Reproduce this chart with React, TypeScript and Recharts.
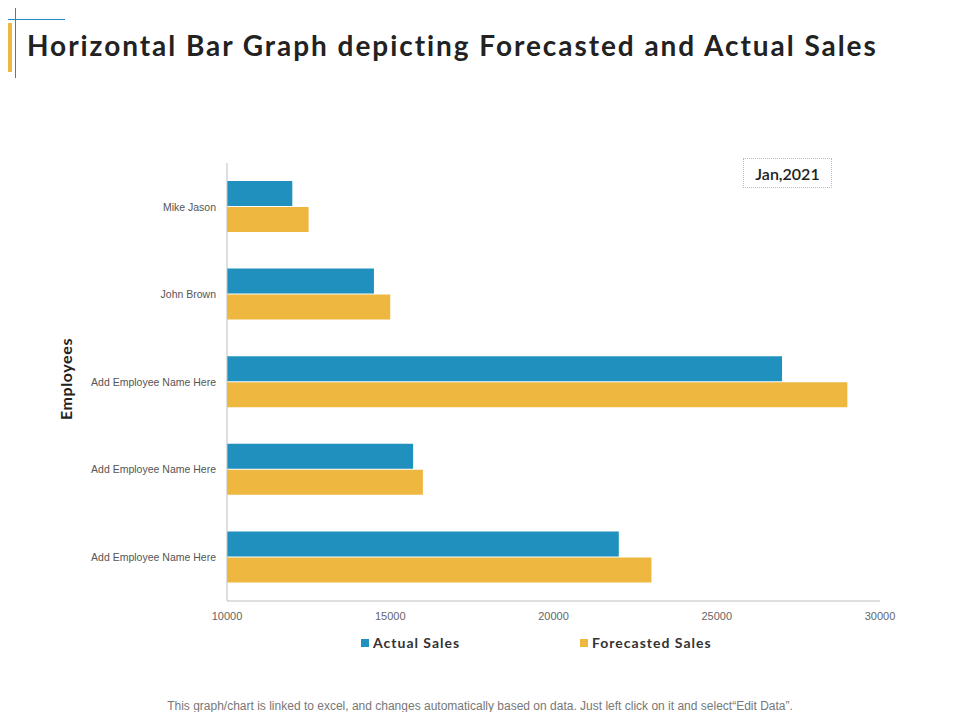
import React from "react";
import { BarChart, Bar, XAxis, YAxis, Legend } from "recharts";

const employees = [
  "Mike Jason",
  "John Brown",
  "Add Employee Name Here",
  "Add Employee Name Here ",
  "Add Employee Name Here  ",
];
const actualSales = [12000, 14500, 27000, 15700, 22000];
const forecastedSales = [12500, 15000, 29000, 16000, 23000];
const xTicks = [10000, 15000, 20000, 25000, 30000];

const BLUE = "#2090BE";
const ORANGE = "#EEB73F";

const data = employees.map((name, i) => ({
  name,
  actual: actualSales[i],
  forecast: forecastedSales[i],
}));

const gothic = "'Century Gothic', 'Lato', 'Open Sans', sans-serif";
const narrow = "'Liberation Sans Narrow', 'Arial Narrow', 'Liberation Sans', sans-serif";

function LegendContent() {
  const items = [
    { label: "Actual Sales", color: BLUE },
    { label: "Forecasted Sales", color: ORANGE },
  ];
  return (
    <div style={{ position: "relative", height: 20 }}>
      {items.map((it, i) => (
        <div
          key={it.label}
          style={{
            position: "absolute",
            left: i === 0 ? 361 : 580,
            top: 0,
            display: "flex",
            alignItems: "center",
            fontFamily: gothic,
            fontWeight: 700,
            fontSize: 14,
            letterSpacing: 1,
            color: "#333",
            whiteSpace: "nowrap",
          }}
        >
          <span style={{ width: 8, height: 8, background: it.color, marginRight: 4 }} />
          {it.label}
        </div>
      ))}
    </div>
  );
}

export default function App() {
  return (
    <div style={{ position: "relative", width: 960, height: 720, margin: -8, background: "#fff", overflow: "hidden" }}>
      {/* corner decoration */}
      <div style={{ position: "absolute", left: 0, top: 19, width: 65, height: 1, background: "#1f8cc4" }} />
      <div style={{ position: "absolute", left: 15, top: 0, width: 1, height: 78, background: "#1f8cc4" }} />
      <div style={{ position: "absolute", left: 3, top: 23, width: 9, height: 49, background: ORANGE }} />
      <div
        style={{
          position: "absolute",
          left: 27,
          top: 28,
          fontFamily: gothic,
          fontWeight: 700,
          fontSize: 28,
          color: "#222",
          whiteSpace: "nowrap",
          letterSpacing: 1.95,
        }}
      >
        Horizontal Bar Graph depicting Forecasted and Actual Sales
      </div>

      <div
        style={{
          position: "absolute",
          left: 743,
          top: 158,
          width: 87,
          height: 28,
          border: "1px dotted #bbb",
          display: "flex",
          alignItems: "center",
          justifyContent: "center",
          fontFamily: gothic,
          fontWeight: 600,
          fontSize: 16,
          color: "#222",
          zIndex: 2,
        }}
      >
        Jan,2021
      </div>

      <div
        style={{
          position: "absolute",
          left: 65,
          top: 379,
          transform: "translate(-50%, -50%) rotate(-90deg)",
          fontFamily: gothic,
          fontWeight: 700,
          fontSize: 16,
          letterSpacing: 0.6,
          color: "#222",
          whiteSpace: "nowrap",
          zIndex: 2,
        }}
      >
        Employees
      </div>

      <div style={{ position: "absolute", left: 0, top: 0 }}>
        <BarChart
          width={960}
          height={720}
          data={data}
          layout="vertical"
          margin={{ top: 163, right: 80, bottom: 69, left: 0 }}
          barCategoryGap={18}
          barGap={1}
        >
          <XAxis
            type="number"
            domain={[10000, 30000]}
            ticks={xTicks}
            allowDataOverflow
            height={30}
            tickSize={0}
            tickMargin={11}
            stroke="#bfbfbf"
            tick={{ fill: "#666", fontSize: 11, fontFamily: narrow }}
          />
          <YAxis
            type="category"
            dataKey="name"
            width={227}
            tickSize={0}
            tickMargin={11}
            stroke="#bfbfbf"
            tick={{ fill: "#555", fontSize: 10.5, fontFamily: narrow }}
          />
          <Legend
            verticalAlign="bottom"
            content={<LegendContent />}
            wrapperStyle={{ left: 0, top: 634, width: 960 }}
          />
          <Bar dataKey="actual" name="Actual Sales" fill={BLUE} isAnimationActive={false} />
          <Bar dataKey="forecast" name="Forecasted Sales" fill={ORANGE} isAnimationActive={false} />
        </BarChart>
      </div>

      <div
        style={{
          position: "absolute",
          left: 0,
          top: 699,
          width: 960,
          textAlign: "center",
          fontFamily: narrow,
          fontSize: 12,
          color: "#777",
        }}
      >
        This graph/chart is linked to excel, and changes automatically based on data. Just left click on it and select“Edit Data”.
      </div>
    </div>
  );
}
